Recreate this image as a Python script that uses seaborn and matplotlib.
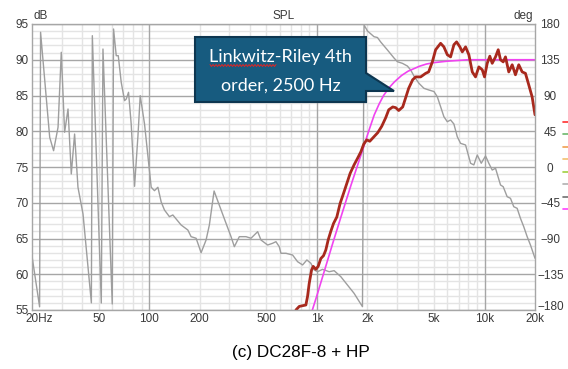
import numpy as np
import matplotlib
matplotlib.use("Agg")
import matplotlib.pyplot as plt
import matplotlib.ticker as mticker
from matplotlib.patches import Polygon
from matplotlib.lines import Line2D
import seaborn as sns
import pandas as pd

# measured SPL (dB) of the tweeter with high-pass
spl_freq = [750, 785, 822, 860, 880, 900, 930, 951, 986, 1018, 1056, 1096, 1131, 1168,
            1211, 1257, 1315, 1376, 1442, 1509, 1579, 1667, 1747, 1828, 1904, 1984,
            2068, 2184, 2307, 2438, 2575, 2683, 2835, 2953, 3077, 3251, 3387, 3528,
            3727, 3885, 4159, 4455, 4642, 4884, 5109, 5471, 5724, 5998, 6275, 6566,
            6812, 7129, 7369, 7708, 8065, 8451, 8838, 9250, 9690, 10000, 10378, 10753,
            11113, 11630, 12067, 12454, 12923, 13335, 13950, 14620, 15290, 16000,
            16770, 17540, 18350, 19230, 20000]
spl_db = [55.0, 55.5, 55.6, 55.7, 56.9, 58.7, 60.6, 61.1, 60.7, 61.1, 62.2, 62.6, 63.4, 64.8,
          66.0, 67.1, 68.0, 69.9, 71.3, 72.7, 74.1, 75.3, 76.2, 77.1, 78.2, 78.8,
          78.6, 79.2, 79.8, 80.7, 81.9, 83.0, 83.4, 83.3, 82.9, 83.4, 84.7, 86.0,
          87.2, 87.6, 87.6, 88.1, 88.3, 89.7, 91.4, 92.3, 91.8, 90.7, 90.4, 92.1,
          92.5, 91.8, 91.1, 91.8, 90.7, 88.3, 87.6, 89.0, 88.6, 87.6, 89.5, 90.5,
          89.5, 90.4, 91.4, 90.0, 89.7, 90.4, 88.3, 89.3, 87.9, 89.3,
          88.3, 88.1, 86.5, 84.8, 82.3]

# Linkwitz-Riley 4th order target, 2500 Hz
hp_freq = [940, 1000, 1100, 1250, 1400, 1600, 1870, 2050, 2200, 2350, 2500, 2700, 2900,
           3200, 3500, 4100, 4500, 5000, 6000, 8000, 20000]
hp_db = [55.0, 57.0, 60.2, 64.5, 68.2, 72.5, 77.3, 80.2, 82.3, 83.8, 85.0, 86.1, 86.9,
         87.8, 88.4, 89.1, 89.4, 89.6, 89.8, 90.0, 90.0]

# phase (deg)
phase_freq = [20, 22.2, 22.5, 25.5, 26.9, 28.6, 29.9, 31.3, 32.8, 34.3, 35.9, 37.6, 40.3,
              45.2, 45.8, 51.8, 53.0, 60.2, 61.3, 63.6, 65.4, 68.1, 71.3, 73.0, 75.3,
              78.1, 81.8, 85.7, 88.4, 93.8, 102.8, 107.5, 112.7, 117.9, 123.3, 132,
              138.4, 155, 170, 177.8, 190.5, 204, 218.4, 228.5, 243.8, 268.4, 287.3,
              307.7, 322, 344.8, 377.9, 404.7, 443.6, 464.2, 508.6, 544.9, 570.2, 596.6,
              610.6, 654, 716.7, 767.6, 822, 872, 921, 963.6, 1010, 1081, 1184, 1268,
              1390, 1667, 1871, 1912, 2004, 2193, 2298, 2404, 2636, 2885, 3023, 3237,
              3467, 3627, 3795, 4064, 4353, 4661, 4993, 5229, 5471, 5724, 5998, 6275,
              6566, 6879, 7194, 7708, 8255, 8636, 9050, 9559, 10140, 10607, 11113, 11630,
              12454, 12923, 13646, 14280, 14940, 15650, 16380, 17140, 17960, 18790, 20000]
phase_deg = [-112, -176, 169.6, 37.4, 20.5, 50, 144.4, 43.7, 73, -8.8, 41.5, -25.5, -59.2,
             -171, 165.3, -171.2, 148.5, -172.4, 173.7, 140.1, 140.1, 106.6, 83.5, 85.6, 94,
             54.1, -24.3, 39.4, 89.8, 54.1, -25.5, -29.8, -25.5, -44, -54.1, -62.5,
             -60.4, -73, -79.3, -87.7, -89.7, -107.9, -91.9, -73, -30.2, -54.1, -70.9,
             -87.7, -100.3, -87.7, -87.7, -89.7, -81.4, -91.9, -98.2, -96, -94, -100.3,
             -108.6, -108.6, -110.8, -119.2, -123.3, -117, -121.2, -129.6, -131.8, -128.8, -131.8, -130.5,
             -138.1, -159, -175.8, 178.7, 171.2, 164, 163, 157.3, 147.3, 137.2, 132.5, 130.5,
             127.1, 122.1, 114.5, 105.3, 99, 96.9, 95, 88.4, 75.9, 63.3, 57, 59.2,
             54.1, 38.1, 29.8, 27.7, 4.7, 2.6, 15.1, 4.7, 13.9, 4.7, -3.8, -1.6,
             -22.6, -24.8, -37.4, -39.4, -50, -52, -64.6, -75.2, -87.7, -98.2, -114.9]

x_ticks = [20, 50, 100, 200, 500, 1000, 2000, 5000, 10000, 20000]
x_labels = ["", "50", "100", "200", "500", "1k", "2k", "5k", "10k", "20k"]
db_ticks = [55, 60, 65, 70, 75, 80, 85, 90, 95]
deg_ticks = [-180, -135, -90, -45, 0, 45, 90, 135, 180]

W, H = 568, 369
TICK_COLOR = "#3a3a3a"
TICK_SIZE = 8.5
MAJOR_GRID = "#a6a6a6"
MINOR_GRID = "#e4e4e4"

sns.set_theme(style="white")
plt.rcParams["font.family"] = ["Liberation Sans", "DejaVu Sans"]

spl = pd.DataFrame({"f": spl_freq, "v": spl_db})
hp = pd.DataFrame({"f": hp_freq, "v": hp_db})
ph = pd.DataFrame({"f": phase_freq, "v": phase_deg})

fig = plt.figure(figsize=(W / 100, H / 100), dpi=100)
fig.patch.set_facecolor("white")
ax = fig.add_axes([32 / W, 59 / H, 503 / W, 286 / H])
ax.set_xscale("log")
ax2 = ax.twinx()

# grid lives on the lower (phase) axes so curves sit above it
ax.set_zorder(ax2.get_zorder() + 1)
ax.patch.set_visible(False)
ax2.patch.set_facecolor("white")

sns.lineplot(data=ph, x="f", y="v", ax=ax2, color="#9e9e9e", linewidth=1,
             sort=False, estimator=None)
sns.lineplot(data=hp, x="f", y="v", ax=ax, color="#f044f0", linewidth=1.2,
             sort=False, estimator=None)
sns.lineplot(data=spl, x="f", y="v", ax=ax, color="#a8291d", linewidth=2,
             sort=False, estimator=None)

ax.set_xlim(20, 20000)
ax.set_ylim(55, 95)
ax2.set_ylim(-180, 180)

ax.xaxis.set_major_locator(mticker.FixedLocator(x_ticks))
ax.xaxis.set_major_formatter(mticker.FixedFormatter(x_labels))
minor_x = [m * 10 ** d for d in range(1, 5) for m in range(2, 10)]
ax.xaxis.set_minor_locator(mticker.FixedLocator(minor_x))
ax.xaxis.set_minor_formatter(mticker.NullFormatter())

ax.set_yticks(db_ticks)
ax2.set_yticks(deg_ticks)
ax2.yaxis.set_minor_locator(mticker.MultipleLocator(9))

ax2.grid(False)
ax.grid(False)
ax2.yaxis.grid(True, which="major", color=MAJOR_GRID, linewidth=1)
ax2.yaxis.grid(True, which="minor", color=MINOR_GRID, linewidth=1)
for f in minor_x:
    if 20 < f < 20000:
        ax2.axvline(f, color=MINOR_GRID, linewidth=1, zorder=0.5)
for f in [100, 1000, 10000]:
    ax2.axvline(f, color=MAJOR_GRID, linewidth=1, zorder=0.6)

ax.set_xlabel("")
ax.set_ylabel("")
ax2.set_ylabel("")
ax.tick_params(axis="both", which="both", length=0, labelsize=TICK_SIZE,
               labelcolor=TICK_COLOR)
ax.tick_params(axis="x", pad=2.3)
ax.tick_params(axis="y", pad=2.5)
ax2.tick_params(axis="y", which="both", length=0, labelsize=TICK_SIZE,
                labelcolor=TICK_COLOR, pad=11)
for lab in ax2.get_yticklabels():
    lab.set_horizontalalignment("center")
# bottom phase label sits just above the 20k frequency label
ax2.get_yticklabels()[0].set_verticalalignment("baseline")

for s in ax.spines.values():
    s.set_color(MAJOR_GRID)
    s.set_linewidth(1)
for s in ax2.spines.values():
    s.set_visible(False)

ax.annotate("20Hz", xy=(20, 0), xycoords=("data", "axes fraction"),
            xytext=(5, -2.3), textcoords="offset points", ha="center", va="top",
            fontsize=TICK_SIZE, color=TICK_COLOR)


def px(x, y):
    return (x / 100, (H - y) / 100)


tr = fig.dpi_scale_trans
fig.text(*px(33, 16), "dB", transform=tr, ha="left", va="center",
         fontsize=TICK_SIZE, color=TICK_COLOR)
fig.text(*px(283.5, 16), "SPL", transform=tr, ha="center", va="center",
         fontsize=TICK_SIZE, color=TICK_COLOR)
fig.text(*px(533, 16), "deg", transform=tr, ha="right", va="center",
         fontsize=TICK_SIZE, color=TICK_COLOR)

# callout box
box = [px(195, 37), px(366, 37), px(366, 73), px(394, 91), px(366, 91),
       px(366, 102), px(195, 102)]
fig.add_artist(Polygon(box, closed=True, transform=tr, facecolor="#175b7f",
                       edgecolor="#0d3650", linewidth=1.5, zorder=5))
fig.text(*px(280.5, 57), "Linkwitz-Riley 4th", transform=tr, ha="center",
         va="center", fontsize=13, color="white", family="Lato", zorder=6)
fig.text(*px(280.5, 86), "order, 2500 Hz", transform=tr, ha="center",
         va="center", fontsize=13, color="white", family="Lato", zorder=6)
wx = np.arange(210, 277.5, 1.5)
wy = np.where(np.arange(len(wx)) % 2 == 0, 64.5, 66.5)
fig.add_artist(Line2D(wx / 100, (H - wy) / 100, transform=tr, color="#e02424",
                      linewidth=0.7, zorder=7))

# legend stubs cut off at the right edge
stub_colors = ["#ff3030", "#6cb86c", "#f0a050", "#f2c070", "#a0d040",
               "#b0b0b0", "#707070", "#ff40ff"]
for i, c in enumerate(stub_colors):
    yy = 121.7 + 12.5 * i
    fig.add_artist(Line2D([563 / 100, 568 / 100], [(H - yy) / 100] * 2,
                          transform=tr, color=c, linewidth=1.2))

fig.text(*px(301, 353), "(c) DC28F-8 + HP", transform=tr, ha="center",
         va="center", fontsize=12.3, color="black", family="Liberation Sans")

fig.savefig("out.png", dpi=100)
